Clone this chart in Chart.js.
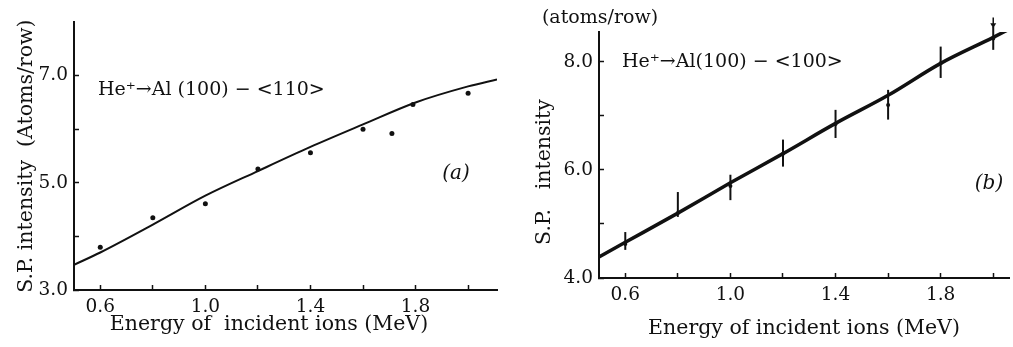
<!DOCTYPE html>
<html><head><meta charset="utf-8">
<script src="https://cdn.jsdelivr.net/npm/chart.js@4.4.1/dist/chart.umd.min.js"></script>
<style>
html,body{margin:0;padding:0;background:#fff;width:1013px;height:347px;overflow:hidden}
#a{position:absolute;left:0;top:0}
#b{position:absolute;left:510px;top:0}
</style></head><body>
<canvas id="a" width="510" height="347"></canvas>
<canvas id="b" width="503" height="347"></canvas>
<script>
// ---- data: panel (a) He+ -> Al(100) <110>
const energyA = [0.6, 0.8, 1.0, 1.2, 1.4, 1.6, 1.71, 1.79, 2.0];
const intensityA = [3.80, 4.35, 4.61, 5.26, 5.56, 6.00, 5.92, 6.46, 6.67];
const fitEnergyA = [0.5, 0.6, 0.8, 1.0, 1.2, 1.4, 1.6, 1.8, 2.0, 2.11];
const fitIntensityA = [3.47, 3.70, 4.22, 4.76, 5.22, 5.67, 6.09, 6.50, 6.80, 6.93];
// ---- data: panel (b) He+ -> Al(100) <100>
const energyB = [0.6, 0.8, 1.0, 1.2, 1.4, 1.6, 1.8, 2.0];
const intensityB = [4.63, 5.20, 5.70, 6.30, 6.85, 7.20, 7.97, 8.43];
const errLowB = [4.52, 5.13, 5.44, 6.06, 6.59, 6.93, 7.70, 8.22];
const errHighB = [4.85, 5.59, 5.91, 6.56, 7.11, 7.48, 8.28, 8.65];
const fitEnergyB = [0.5, 0.6, 0.8, 1.0, 1.2, 1.4, 1.6, 1.8, 2.0, 2.06];
const fitIntensityB = [4.39, 4.66, 5.20, 5.76, 6.30, 6.86, 7.38, 7.97, 8.45, 8.60];
const arrowEnergyB = [2.0];
const arrowTopB = [8.82];
const arrowTipB = [8.62];
// ---- ticks
const xTicks = [0.6, 0.8, 1.0, 1.2, 1.4, 1.6, 1.8, 2.0];
const xTickLabels = ['0.6', '', '1.0', '', '1.4', '', '1.8', ''];
const yTicksA = [3, 4, 5, 6, 7];
const yTickLabelsA = ['3.0', '', '5.0', '', '7.0'];
const yTicksB = [4, 5, 6, 7, 8];
const yTickLabelsB = ['4.0', '', '6.0', '', '8.0'];

const pts = (xs, ys) => xs.map((x, i) => ({x, y: ys[i]}));
const SERIF = "'DejaVu Serif', 'Liberation Serif', serif";
const INK = '#111';

const textPlugin = {
  id: 'texts',
  afterDraw(chart, args, opts) {
    const ctx = chart.ctx;
    (opts.items || []).forEach(t => {
      ctx.save();
      ctx.font = t.font;
      ctx.fillStyle = INK;
      ctx.textAlign = t.align || 'center';
      ctx.textBaseline = 'middle';
      ctx.translate(t.x, t.y);
      if (t.rot) ctx.rotate(t.rot);
      ctx.fillText(t.text, 0, 0);
      ctx.restore();
    });
  }
};

const errorBarPlugin = {
  id: 'errorBars',
  afterDatasetsDraw(chart, args, opts) {
    if (!opts.xs) return;
    const {ctx, scales: {x, y}} = chart;
    ctx.save();
    ctx.strokeStyle = INK;
    ctx.fillStyle = INK;
    ctx.lineWidth = opts.width || 2;
    opts.xs.forEach((v, i) => {
      const px = x.getPixelForValue(v);
      ctx.beginPath();
      ctx.moveTo(px, y.getPixelForValue(opts.lows[i]));
      ctx.lineTo(px, y.getPixelForValue(opts.highs[i]));
      ctx.stroke();
    });
    (opts.arrowXs || []).forEach((v, i) => {
      const px = x.getPixelForValue(v);
      const top = y.getPixelForValue(opts.arrowTops[i]);
      const tip = y.getPixelForValue(opts.arrowTips[i]);
      ctx.lineWidth = 1.5;
      ctx.beginPath();
      ctx.moveTo(px, top);
      ctx.lineTo(px, tip - 3);
      ctx.stroke();
      ctx.beginPath();
      ctx.moveTo(px - 3, tip - 5);
      ctx.lineTo(px + 3, tip - 5);
      ctx.lineTo(px, tip);
      ctx.closePath();
      ctx.fill();
    });
    ctx.restore();
  }
};
Chart.register(textPlugin, errorBarPlugin);

function xScale(min, max, height, titleOpts) {
  return {
    type: 'linear', min, max,
    afterBuildTicks: s => { s.ticks = xTicks.map(v => ({value: v})); },
    afterFit: s => { s.height = height; },
    ticks: {autoSkip: false, maxRotation: 0, padding: 11, color: INK,
      font: {family: SERIF, size: 18.5},
      callback: v => xTickLabels[xTicks.indexOf(v)] ?? ''},
    grid: {drawOnChartArea: false, drawTicks: true, tickLength: -5, tickWidth: 1.5, color: INK},
    border: {display: true, color: INK, width: 2},
    title: titleOpts || {display: false}
  };
}
function yScale(min, max, width, ticks, labels, titleOpts) {
  return {
    type: 'linear', min, max,
    afterBuildTicks: s => { s.ticks = ticks.map(v => ({value: v})); },
    afterFit: s => { s.width = width; },
    ticks: {autoSkip: false, padding: 11, color: INK,
      font: {family: SERIF, size: 18.5},
      callback: v => labels[ticks.indexOf(v)] ?? ''},
    grid: {drawOnChartArea: false, drawTicks: true, tickLength: -5, tickWidth: 1.5, color: INK},
    border: {display: true, color: INK, width: 2},
    title: titleOpts || {display: false}
  };
}

new Chart(document.getElementById('a'), {
  type: 'scatter',
  data: {datasets: [
    {label: 'fit', data: pts(fitEnergyA, fitIntensityA), showLine: true, borderColor: INK,
     borderWidth: 2, pointRadius: 0, cubicInterpolationMode: 'monotone'},
    {label: 'measured', data: pts(energyA, intensityA), pointRadius: 2.5,
     pointBackgroundColor: INK, pointBorderWidth: 0}
  ]},
  options: {
    responsive: false, animation: false, devicePixelRatio: 1,
    layout: {padding: {left: 0, right: 13, top: 20, bottom: 0}},
    plugins: {legend: {display: false}, tooltip: {enabled: false},
      texts: {items: [
        {text: 'He\u207A\u2192Al (100) \u2212 <110>', x: 98, y: 90, align: 'left', font: `19px ${SERIF}`},
        {text: '(a)', x: 456, y: 174, font: `italic 20px ${SERIF}`},
        {text: 'Energy of  incident ions (MeV)', x: 269, y: 325, font: `20.5px ${SERIF}`}
      ]}},
    scales: {
      x: xScale(0.5, 2.11, 57),
      y: yScale(3, 8, 74, yTicksA, yTickLabelsA,
        {display: true, text: 'S.P. intensity  (Atoms/row)', color: INK,
         font: {family: SERIF, size: 20.5}, padding: {top: 14, bottom: 0}})
    }
  }
});

new Chart(document.getElementById('b'), {
  type: 'scatter',
  data: {datasets: [
    {label: 'fit', data: pts(fitEnergyB, fitIntensityB), showLine: true, borderColor: INK,
     borderWidth: 3.5, pointRadius: 0, cubicInterpolationMode: 'monotone'},
    {label: 'measured', data: pts(energyB, intensityB), pointRadius: 2,
     pointBackgroundColor: INK, pointBorderWidth: 0}
  ]},
  options: {
    responsive: false, animation: false, devicePixelRatio: 1,
    layout: {padding: {left: 0, right: 0, top: 32, bottom: 0}},
    plugins: {legend: {display: false}, tooltip: {enabled: false},
      errorBars: {xs: energyB, lows: errLowB, highs: errHighB, width: 2,
        arrowXs: arrowEnergyB, arrowTops: arrowTopB, arrowTips: arrowTipB},
      texts: {items: [
        {text: '(atoms/row)', x: 90, y: 18, font: `19px ${SERIF}`},
        {text: 'He\u207A\u2192Al(100) \u2212 <100>', x: 112, y: 62, align: 'left', font: `19px ${SERIF}`},
        {text: '(b)', x: 479, y: 184, font: `italic 20px ${SERIF}`},
        {text: 'S.P.   intensity', x: 35, y: 172, rot: -Math.PI / 2, font: `20.5px ${SERIF}`}
      ]}},
    scales: {
      x: xScale(0.5, 2.06, 69,
        {display: true, text: 'Energy of incident ions (MeV)', color: INK,
         font: {family: SERIF, size: 20.5}, padding: {top: 0, bottom: 6}}),
      y: yScale(4, 8.55, 89, yTicksB, yTickLabelsB)
    }
  }
});
</script>
</body></html>
